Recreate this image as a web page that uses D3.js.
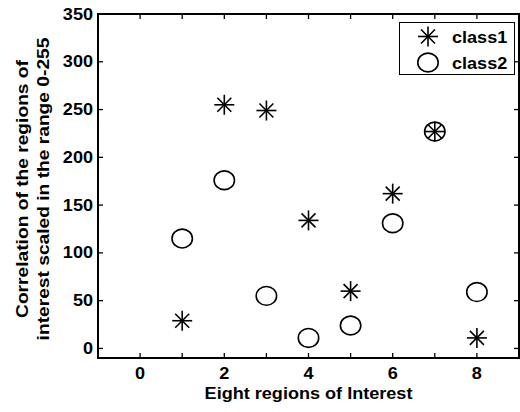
<!DOCTYPE html>
<html>
<head>
<meta charset="utf-8">
<script src="https://cdn.jsdelivr.net/npm/d3@7"></script>
<style>
  body { margin: 0; background: #fff; }
  svg text { font-family: "Liberation Sans", Arial, sans-serif; font-weight: bold; fill: #000; font-size: 16px; }
</style>
</head>
<body>
<div id="chart"></div>
<script>
// regions of interest (x) and correlation values for each class
const regions = [1, 2, 3, 4, 5, 6, 7, 8];
const class1 = [29, 255, 249, 134, 60, 162, 227, 11];
const class2 = [115, 176, 55, 11, 24, 131, 227, 59];
const xTickValues = [-1, 0, 1, 2, 3, 4, 5, 6, 7, 8, 9];
const xLabelValues = [0, 2, 4, 6, 8];
const yTickValues = [0, 50, 100, 150, 200, 250, 300, 350];
const legendNames = ['class1', 'class2'];

const width = 520, height = 412;
const margin = { left: 98, right: 1, top: 14, bottom: 54 };
const stretch = 1.13; // the original text is a little wider than Liberation Sans

const svg = d3.select('#chart').append('svg')
    .attr('width', width)
    .attr('height', height);

const x = d3.scaleLinear().domain([-1, 9]).range([margin.left, width - margin.right]);
const y = d3.scaleLinear().domain([-10, 350]).range([height - margin.bottom, margin.top]);

const x0 = x.range()[0], x1 = x.range()[1];
const y0 = y.range()[0], y1 = y.range()[1];

function label(g, tx, ty, str, anchor) {
    return g.append('text')
        .attr('transform', `translate(${tx},${ty}) scale(${stretch},1)`)
        .attr('text-anchor', anchor || 'start')
        .text(str);
}

// inner ticks on all four sides
const tickLen = 5;
const ticks = svg.append('g').attr('stroke', '#000').attr('stroke-width', 1.3);
xTickValues.forEach(v => {
    ticks.append('line').attr('x1', x(v)).attr('x2', x(v)).attr('y1', y0).attr('y2', y0 - tickLen);
    ticks.append('line').attr('x1', x(v)).attr('x2', x(v)).attr('y1', y1).attr('y2', y1 + tickLen);
});
yTickValues.forEach(v => {
    ticks.append('line').attr('x1', x0).attr('x2', x0 + tickLen).attr('y1', y(v)).attr('y2', y(v));
    ticks.append('line').attr('x1', x1).attr('x2', x1 - tickLen).attr('y1', y(v)).attr('y2', y(v));
});

// box
svg.append('rect')
    .attr('x', x0).attr('y', y1)
    .attr('width', x1 - x0).attr('height', y0 - y1)
    .attr('fill', 'none').attr('stroke', '#000').attr('stroke-width', 2);

// tick labels
const labels = svg.append('g');
xLabelValues.forEach(v => label(labels, x(v), y0 + 20.5, v, 'middle'));
yTickValues.forEach(v => label(labels, x0 - 5, y(v) + 5.5, v, 'end'));

// axis titles
label(svg, (x0 + x1) / 2, 398.5, 'Eight regions of Interest', 'middle');

const yTitle = svg.append('text')
    .attr('transform', `translate(0, 189) rotate(-90) scale(1.2,1)`)
    .attr('text-anchor', 'middle');
yTitle.append('tspan').attr('x', 0).attr('y', 28.5).text('Correlation of the regions of');
yTitle.append('tspan').attr('x', 0).attr('y', 49.5).text('interest scaled in the range 0-255');

// markers
function star(g, cx, cy) {
    const a = 10, b = 7;
    const s = g.append('g').attr('stroke', '#000').attr('stroke-width', 1.6);
    s.append('line').attr('x1', cx - a).attr('x2', cx + a).attr('y1', cy).attr('y2', cy);
    s.append('line').attr('x1', cx).attr('x2', cx).attr('y1', cy - a).attr('y2', cy + a);
    s.append('line').attr('x1', cx - b).attr('x2', cx + b).attr('y1', cy - b).attr('y2', cy + b);
    s.append('line').attr('x1', cx - b).attr('x2', cx + b).attr('y1', cy + b).attr('y2', cy - b);
}
function circle(g, cx, cy) {
    g.append('ellipse').attr('cx', cx).attr('cy', cy).attr('rx', 10.2).attr('ry', 9.4)
        .attr('fill', 'none').attr('stroke', '#000').attr('stroke-width', 1.6);
}

const marks = svg.append('g');
regions.forEach((r, i) => star(marks, x(r), y(class1[i])));
regions.forEach((r, i) => circle(marks, x(r), y(class2[i])));

// legend
const legend = svg.append('g');
legend.append('rect')
    .attr('x', 399.5).attr('y', 22.5).attr('width', 115).attr('height', 52)
    .attr('fill', '#fff').attr('stroke', '#000').attr('stroke-width', 1);
star(legend, 428, 36.5);
circle(legend, 428, 62.5);
label(legend, 452, 42.5, legendNames[0]);
label(legend, 452, 68.5, legendNames[1]);
</script>
</body>
</html>
